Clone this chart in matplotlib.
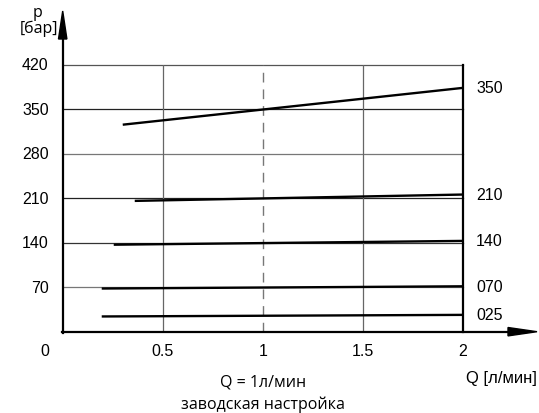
import matplotlib
matplotlib.use("Agg")
import matplotlib.pyplot as plt

# Data
settings = ["350", "210", "140", "070", "025"]
q_start = [0.30, 0.36, 0.255, 0.195, 0.195]
q_end = [2.0, 2.0, 2.0, 2.0, 2.0]
p_start = [326, 206, 137, 68, 24]
p_end = [384, 216, 143, 71.5, 26.5]
x_ticks = [0.5, 1, 1.5, 2]
x_tick_labels = ["0.5", "1", "1.5", "2"]
y_ticks = [70, 140, 210, 280, 350, 420]
y_tick_labels = ["70", "140", "210", "280", "350", "420"]
factory_q = 1.0

num_font = "Liberation Sans"
txt_font = "Open Sans"
NS = 11.5

fig = plt.figure(figsize=(5.39, 4.14), dpi=100)
ax = fig.add_axes([62.7 / 539, 1 - 332.7 / 414, (463 - 62.7) / 539, (332.7 - 66) / 414])
ax.set_xlim(0, 2)
ax.set_ylim(0, 420)
ax.set_xticks([])
ax.set_yticks([])
ax.spines["top"].set_visible(False)
ax.spines["left"].set_visible(False)
ax.spines["bottom"].set_visible(False)
ax.spines["right"].set_linewidth(1.6)
ax.spines["right"].set_color("black")
ax.patch.set_alpha(0)

# grid
grid_col = {70: "#777777", 140: "#333333", 210: "#222222", 280: "#777777", 350: "#222222", 420: "#555555"}
for y in y_ticks:
    ax.axhline(y, color=grid_col[y], lw=0.9, zorder=1, clip_on=False)
for x in x_ticks[:-1]:
    if x == factory_q:
        ax.axvline(x, color="#777777", lw=1.0, ls=(0, (7, 5)), zorder=1)
    else:
        ax.axvline(x, color="#666666", lw=0.9, zorder=1)

# curves
for qs, qe, ps, pe, lab in zip(q_start, q_end, p_start, p_end, settings):
    ax.plot([qs, qe], [ps, pe], color="black", lw=1.7, zorder=3, solid_capstyle="butt")
    ax.text(qe + 0.065, pe, lab, fontsize=NS, family=num_font, va="center", ha="left", clip_on=False)

# tick labels
for y, t in zip(y_ticks, y_tick_labels):
    ax.text(-0.07, y, t, fontsize=NS, family=num_font, ha="right", va="center")
for x, t in zip(x_ticks, x_tick_labels):
    ax.text(x, -30, t, fontsize=NS, family=num_font, ha="center", va="center")
ax.text(-0.09, -30, "0", fontsize=NS, family=num_font, ha="center", va="center")

# axes arrows (figure coords in pixels)
def fx(px):
    return px / 539
def fy(py):
    return 1 - py / 414

fig.add_artist(matplotlib.lines.Line2D([fx(62.7), fx(62.7)], [fy(333.5), fy(35)], color="black", lw=1.6))
fig.add_artist(matplotlib.patches.Polygon([[fx(58.5), fy(40)], [fx(66.9), fy(40)], [fx(62.7), fy(12)]],
                                          closed=True, color="black", transform=fig.transFigure))
fig.add_artist(matplotlib.lines.Line2D([fx(62), fx(512)], [fy(332.7), fy(332.7)], color="black", lw=1.6))
fig.add_artist(matplotlib.patches.Polygon([[fx(508), fy(328.5)], [fx(508), fy(336.9)], [fx(537), fy(332.7)]],
                                          closed=True, color="black", transform=fig.transFigure))

# axis labels
fig.text(fx(38), fy(13), "p", fontsize=11.5, family=txt_font, ha="center", va="center")
fig.text(fx(39), fy(29), "[бар]", fontsize=11.5, family=txt_font, ha="center", va="center")
fig.text(fx(537), fy(379), "Q [л/мин]", fontsize=12, family=num_font, ha="right", va="center")
fig.text(fx(263), fy(383), "Q = 1л/мин", fontsize=11.5, family=txt_font, ha="center", va="center")
fig.text(fx(263), fy(405), "заводская настройка", fontsize=11.5, family=txt_font, ha="center", va="center")

fig.savefig("out.png", dpi=100)
